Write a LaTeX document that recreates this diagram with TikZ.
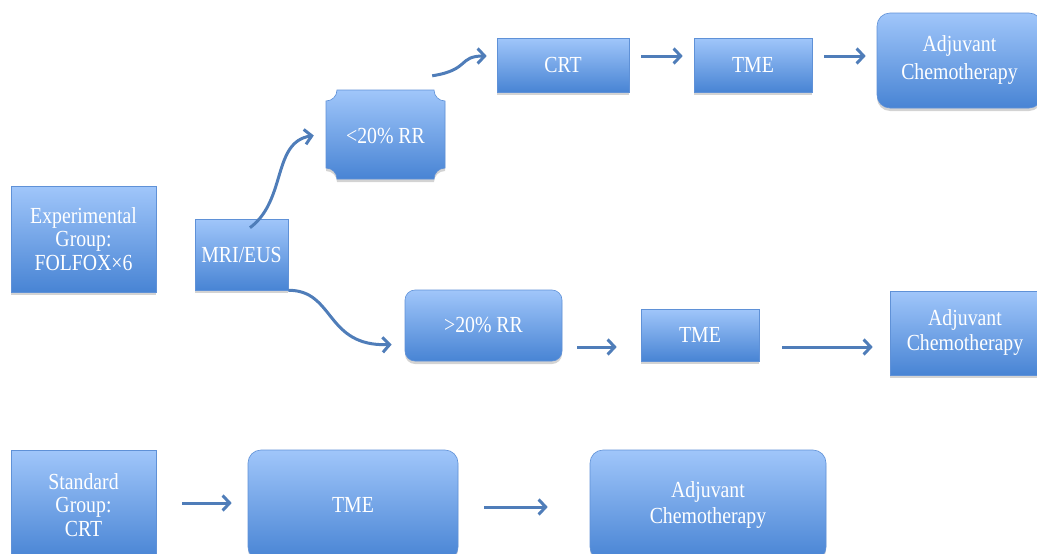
\documentclass[tikz,border=0pt]{standalone}
\usepackage{fontspec}
\setmainfont{Liberation Serif}[FakeStretch=0.86]
\usetikzlibrary{arrows.meta,shadows,calc}
\definecolor{boxtop}{RGB}{160,198,250}
\definecolor{boxbot}{RGB}{72,132,212}
\definecolor{boxline}{RGB}{95,145,215}
\definecolor{arrcol}{RGB}{79,125,185}
\tikzset{
  box/.style={draw=boxline, line width=0.6pt, top color=boxtop, bottom color=boxbot,
    text=white, font=\fontsize{23}{23.5}\selectfont, align=center, inner sep=0pt,
    drop shadow={opacity=0.35, shadow xshift=0pt, shadow yshift=-3pt}},
  rbox/.style={box, rounded corners=13pt},
  plain/.style={text=white, font=\fontsize{23}{23.5}\selectfont, align=center, inner sep=0pt},
  arr/.style={draw=arrcol, line width=3pt, -{Straight Barb[length=7pt,width=15pt]}}
}
\begin{document}
\begin{tikzpicture}[x=1pt,y=-1pt]
\useasboundingbox (0,0) rectangle (1037,554);
% shapes
\node[box, minimum width=145pt, minimum height=106pt] (exp) at (83.5,239) {Experimental\\Group:\\FOLFOX×6};
\node[box, minimum width=93pt, minimum height=71pt] (mri) at (241.5,254.5) {MRI/EUS};
% plaque shape for <20% RR
\coordinate (ltnw) at (326,90);
\coordinate (ltse) at (445,179);
\path[draw=boxline, line width=0.6pt, top color=boxtop, bottom color=boxbot,
  drop shadow={opacity=0.35, shadow xshift=0pt, shadow yshift=-3pt}]
  ($(ltnw)+(11,0)$) -- ($(ltse|-ltnw)+(-11,0)$) arc[start angle=180, end angle=270, radius=11pt]
  -- ($(ltse)+(0,-11)$) arc[start angle=90, end angle=180, radius=11pt]
  -- ($(ltnw|-ltse)+(11,0)$) arc[start angle=0, end angle=90, radius=11pt]
  -- ($(ltnw)+(0,11)$) arc[start angle=270, end angle=360, radius=11pt] -- cycle;
\node[plain, minimum width=119pt, minimum height=89pt] (lt) at (385.5,136.5) {<20\% RR};
\node[box, minimum width=132pt, minimum height=54pt] (crt) at (563,65) {CRT};
\node[box, minimum width=118pt, minimum height=54pt] (tme1) at (753,65) {TME};
\node[rbox, minimum width=165pt, minimum height=95pt] (adj1) at (959.5,60.5) {Adjuvant\\[4.5pt]Chemotherapy};
\node[box, rounded corners=10pt, minimum width=157pt, minimum height=71pt] (gt) at (483.5,325.5) {>20\% RR};
\node[box, minimum width=118pt, minimum height=52pt] (tme2) at (700,335) {TME};
\node[box, minimum width=150pt, minimum height=84pt] (adj2) at (965,333) {Adjuvant\\[1.5pt]Chemotherapy};
\node[box, minimum width=145pt, minimum height=110pt] (std) at (83.5,505) {Standard\\Group:\\CRT};
\node[rbox, minimum width=210pt, minimum height=110pt] (tme3) at (353,505) {TME};
\node[rbox, minimum width=236pt, minimum height=110pt] (adj3) at (708,505) {Adjuvant\\[2.5pt]Chemotherapy};
% arrows
\draw[arr] ($(mri.north)+(8.5,9)$) .. controls (287,200) and (272,142) .. ($(lt.west)+(-12,-1)$);
\draw[arr] (mri.south east) .. controls (335,290) and (325,347) .. ($(gt.west)+(-13,19)$);
\draw[arr] ($(lt.north east)+(-13,-16)$) .. controls (470,70) and (458,56) .. ($(crt.west)+(-10,-9)$);
\draw[arr] ($(crt.east)+(12,-9)$) -- ($(tme1.west)+(-11,-9)$);
\draw[arr] ($(tme1.east)+(12,-9)$) -- ($(adj1.west)+(-11,-4.5)$);
\draw[arr] ($(gt.east)+(15,21.5)$) -- ($(tme2.west)+(-24,12)$);
\draw[arr] ($(tme2.east)+(23,12)$) -- ($(adj2.west)+(-17,14)$);
\draw[arr] ($(std.east)+(26,-2)$) -- ($(tme3.west)+(-16,-2)$);
\draw[arr] ($(tme3.east)+(26,2)$) -- ($(adj3.west)+(-42,2)$);
\end{tikzpicture}
\end{document}
